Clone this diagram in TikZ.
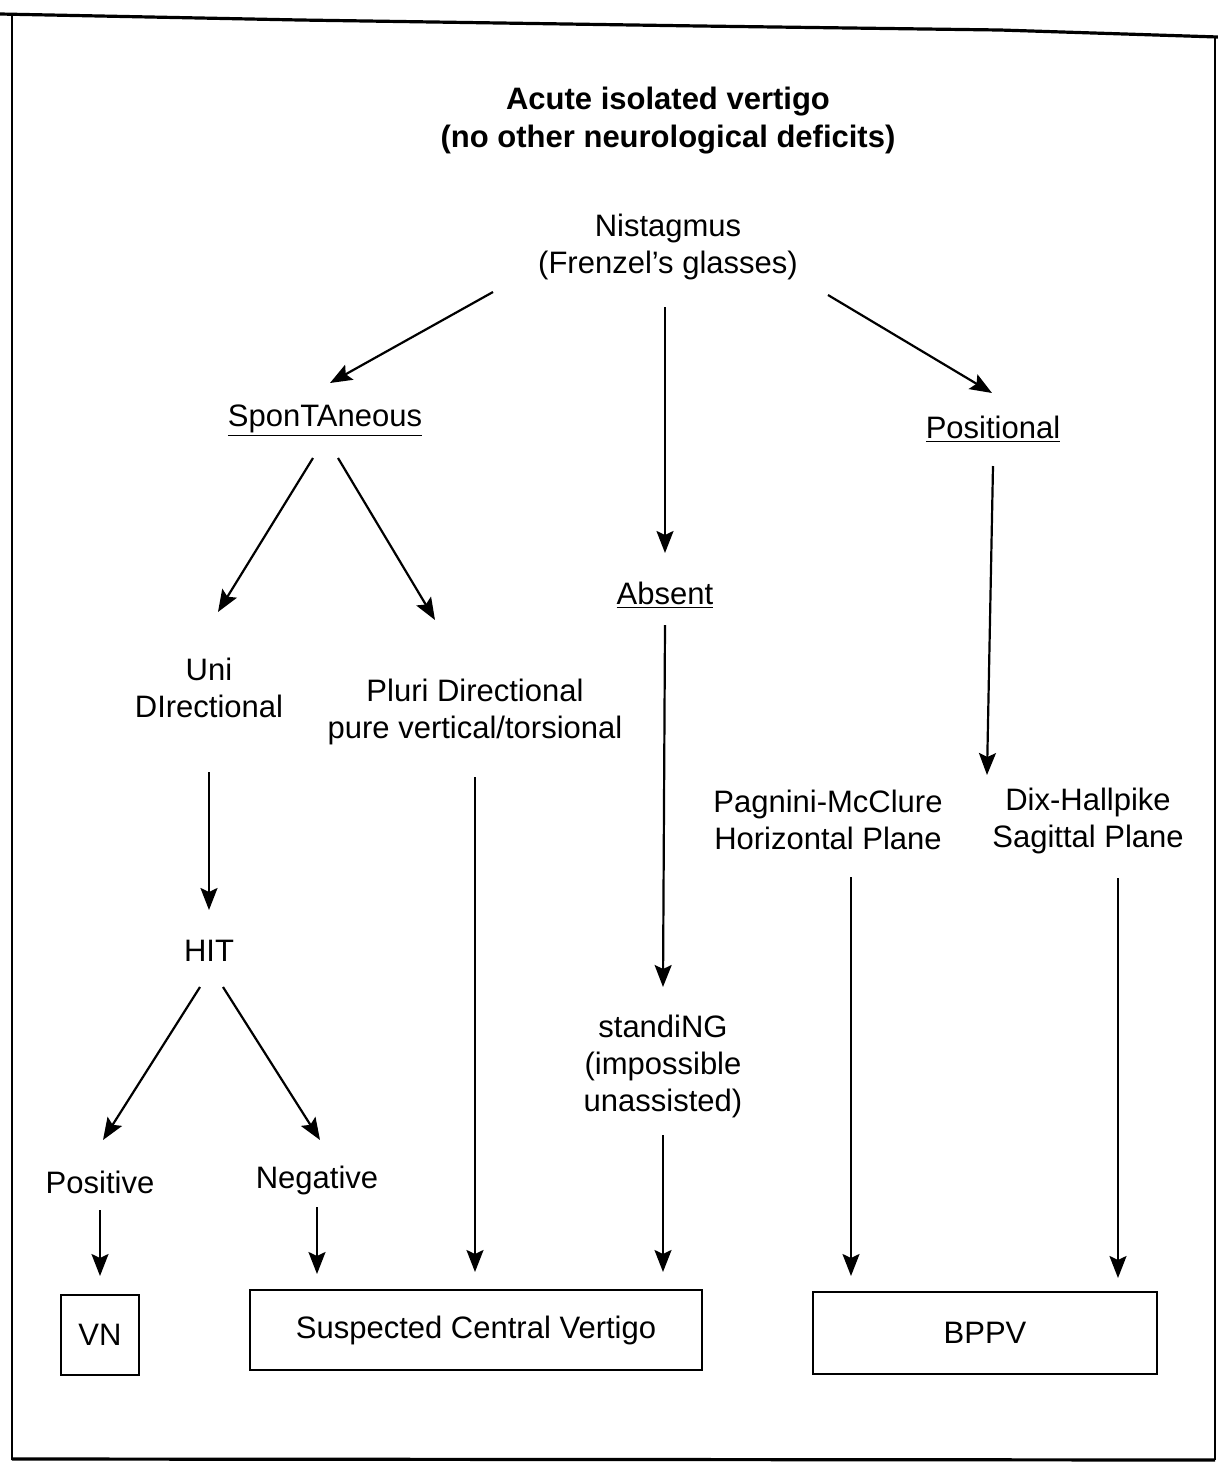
\documentclass[tikz,border=0pt]{standalone}
\usepackage{fontspec}
\setmainfont{Liberation Sans}
\usetikzlibrary{arrows.meta,calc}
\begin{document}
\begin{tikzpicture}[x=0.5pt,y=-0.5pt,
  txt/.style={align=center,inner sep=0pt,font=\fontsize{15.5pt}{18.5pt}\selectfont},
  ttl/.style={align=center,inner sep=0pt,font=\fontsize{15.5pt}{19pt}\selectfont\bfseries},
  outbox/.style={draw,line width=0.9pt,inner sep=0pt,font=\fontsize{15.5pt}{18.5pt}\selectfont},
  arr/.style={line width=1.1pt,-{Stealth[length=11pt,width=8.5pt,inset=2pt]}},
  frame/.style={line width=1.2pt,line join=round}]
\useasboundingbox (0,0) rectangle (1218,1463);
% frame
\draw[frame,line width=1.6pt] (0,14) -- (300,20) -- (700,26) -- (1000,30) -- (1218,37);
\draw[frame] (12,16) -- (12,1460);
\draw[frame] (1215,37) -- (1215,1460);
\draw[frame,line width=1.6pt] (12,1459) -- (1215,1460);
% nodes
\node[ttl] (title) at (668,121) {Acute isolated vertigo\\(no other neurological deficits)};
\node[txt] (nis) at (668,247) {Nistagmus\\(Frenzel's glasses)};
\node[txt] (spon) at (325,421) {\underline{SponTAneous}};
\node[txt] (posl) at (993,429) {\underline{Positional}};
\node[txt] (absent) at (665,595) {\underline{Absent}};
\node[txt] (uni) at (209,688) {Uni\\DIrectional};
\node[txt] (pluri) at (475,712) {Pluri Directional\\pure vertical/torsional};
\node[txt] (pag) at (828,820) {Pagnini-McClure\\Horizontal Plane};
\node[txt] (dix) at (1088,821) {Dix-Hallpike\\Sagittal Plane};
\node[txt] (hit) at (209,951) {HIT};
\node[txt] (stand) at (663,1066) {standiNG\\(impossible\\unassisted)};
\node[txt] (pos) at (100,1182) {Positive};
\node[txt] (neg) at (317,1180) {Negative};
\node[outbox,minimum width=39pt,minimum height=40pt] (vn) at (100,1335) {VN};
\node[outbox,minimum width=226pt,minimum height=40pt] (scv) at (476,1330) {Suspected Central Vertigo};
\node[outbox,minimum width=172pt,minimum height=41pt] (bppv) at (985,1333) {BPPV};
% arrows
\draw[arr] ($(nis)+(-175,45)$) -- ($(spon)+(5,-38)$);
\draw[arr] ($(nis)+(-3,60)$) -- ($(absent)+(0,-42)$);
\draw[arr] ($(nis)+(160,48)$) -- ($(posl)+(-1,-36)$);
\draw[arr] ($(spon)+(-12,37)$) -- ($(uni)+(9,-76)$);
\draw[arr] ($(spon)+(13,37)$) -- ($(pluri)+(-40,-92)$);
\draw[arr] ($(posl)+(0,37)$) -- ($(dix)+(-101,-46)$);
\draw[arr] ($(absent)+(0,30)$) -- ($(stand)+(0,-79)$);
\draw[arr] ($(uni)+(0,84)$) -- ($(hit)+(0,-41)$);
\draw[arr] ($(pluri)+(0,65)$) -- ($(scv)+(-1,-58)$);
\draw[arr] ($(pag)+(23,57)$) -- ($(bppv)+(-134,-57)$);
\draw[arr] ($(dix)+(30,57)$) -- ($(bppv)+(133,-55)$);
\draw[arr] ($(hit)+(-9,36)$) -- ($(pos)+(3,-42)$);
\draw[arr] ($(hit)+(14,36)$) -- ($(neg)+(3,-40)$);
\draw[arr] ($(pos)+(0,28)$) -- ($(vn)+(0,-59)$);
\draw[arr] ($(neg)+(0,27)$) -- ($(scv)+(-159,-56)$);
\draw[arr] ($(stand)+(0,69)$) -- ($(scv)+(187,-58)$);
\end{tikzpicture}
\end{document}
